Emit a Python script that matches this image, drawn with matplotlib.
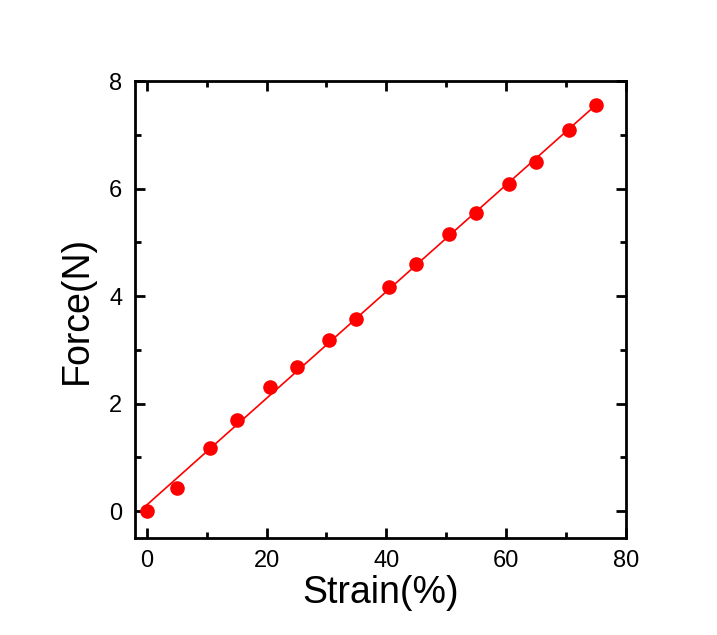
import numpy as np
import matplotlib
matplotlib.use("Agg")
import matplotlib.pyplot as plt
from matplotlib.ticker import MultipleLocator

strain = [0, 5, 10.5, 15, 20.5, 25, 30.5, 35, 40.5, 45, 50.5, 55, 60.5, 65, 70.5, 75]
force = [0.0, 0.43, 1.18, 1.69, 2.30, 2.68, 3.19, 3.57, 4.16, 4.60, 5.15, 5.55, 6.08, 6.49, 7.08, 7.56]
xticks = [0, 20, 40, 60, 80]
yticks = [0, 2, 4, 6, 8]

plt.rcParams['font.family'] = ['Liberation Sans', 'DejaVu Sans']

fig = plt.figure(figsize=(7.17, 6.35), dpi=100)
ax = fig.add_axes([0.188, 0.1528, 0.685, 0.7196])

slope, intercept = np.polyfit(strain, force, 1)
xs = np.array([strain[0], strain[-1]])
ax.plot(xs, slope * xs + intercept, color='#ff0000', lw=1.2, zorder=2)
ax.plot(strain, force, 'o', color='#ff0000', markersize=10.5, markeredgewidth=0, zorder=3)

ax.set_xlim(-2, 80)
ax.set_ylim(-0.5, 8)
ax.set_xticks(xticks)
ax.set_yticks(yticks)
ax.xaxis.set_minor_locator(MultipleLocator(10))
ax.yaxis.set_minor_locator(MultipleLocator(1))
ax.tick_params(which='both', direction='in', top=True, right=True, width=2, labelsize=17)
ax.tick_params(which='major', length=7, pad=9)
ax.tick_params(which='minor', length=4)
for s in ax.spines.values():
    s.set_linewidth(2)

ax.set_xlabel('Strain(%)', fontsize=27, labelpad=2)
ax.set_ylabel('Force(N)', fontsize=27, labelpad=10)

fig.savefig('out.png', dpi=100, facecolor='white')
